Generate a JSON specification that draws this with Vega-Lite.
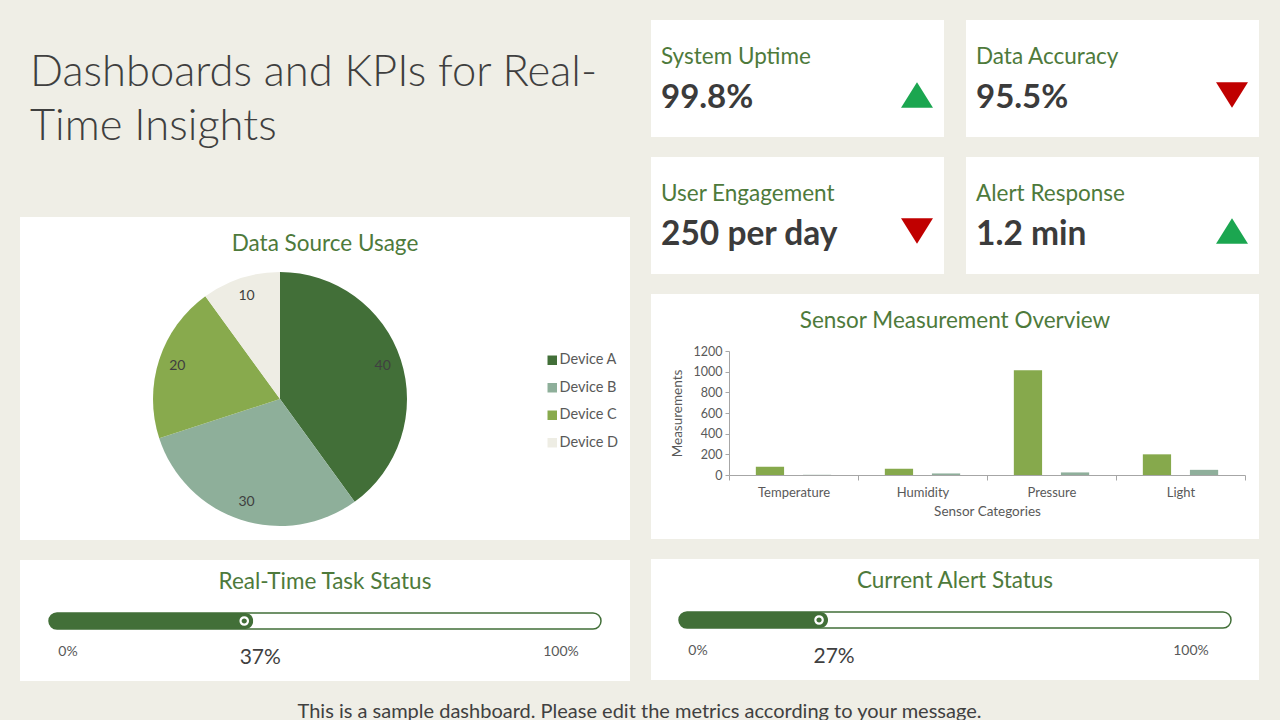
{
  "$schema": "https://vega.github.io/schema/vega-lite/v6.json",
  "background": "#EFEEE6",
  "padding": {"left": 20, "top": 20, "right": 21, "bottom": 0},
  "config": {
    "font": "Lato",
    "view": {"stroke": null, "fill": "white"},
    "title": {"font": "Lato", "fontWeight": "normal", "color": "#4E7A3B", "fontSize": 22.5, "anchor": "middle", "frame": "group"},
    "axis": {"labelFont": "Lato", "titleFont": "Lato", "labelColor": "#595959", "titleColor": "#595959", "domainColor": "#A6A6A6", "tickColor": "#A6A6A6", "grid": false, "titleFontWeight": "normal"}
  },
  "datasets": {
    "kpis": [
      {"metric": "System Uptime", "value": "99.8%", "trend": "up"},
      {"metric": "Data Accuracy", "value": "95.5%", "trend": "down"},
      {"metric": "User Engagement", "value": "250 per day", "trend": "down"},
      {"metric": "Alert Response", "value": "1.2 min", "trend": "up"}
    ]
  },
  "title": {"text": "This is a sample dashboard. Please edit the metrics according to your message.", "orient": "bottom", "anchor": "middle", "frame": "bounds", "fontSize": 20, "color": "#404040", "offset": 21, "baseline": "top"},
  "resolve": {"scale": {"color": "independent", "shape": "independent"}},
  "spacing": 21,
  "hconcat": [
    {
      "spacing": 20,
      "resolve": {"scale": {"color": "independent", "shape": "independent"}},
      "vconcat": [
        {
          "width": 610,
          "height": 177,
          "view": {"fill": "#EFEEE6", "stroke": null},
          "title": {"text": ["Dashboards and KPIs for Real-", "Time Insights"], "anchor": "start", "frame": "group", "dx": 10, "offset": -163, "baseline": "alphabetic", "lineHeight": 54, "fontSize": 43.5, "fontWeight": 300, "color": "#3F3F3F"},
          "data": {"values": [{"t": ""}]},
          "mark": {"type": "text"},
          "encoding": {"text": {"field": "t", "type": "nominal"}}
        },
        {
          "width": 610,
          "height": 323,
          "title": {"text": "Data Source Usage", "offset": -49, "baseline": "middle"},
          "data": {"values": [
            {"device": "Device A", "usage": 40},
            {"device": "Device B", "usage": 30},
            {"device": "Device C", "usage": 20},
            {"device": "Device D", "usage": 10}
          ]},
          "layer": [
            {
              "mark": {"type": "rect", "fill": "white", "stroke": null},
              "encoding": {}
            },
            {
              "mark": {"type": "arc", "x": 260, "y": 182, "radius": 127},
              "encoding": {
                "theta": {"field": "usage", "type": "quantitative", "stack": true},
                "order": {"field": "usage", "type": "quantitative", "sort": "descending"},
                "color": {"field": "device", "type": "nominal",
                  "scale": {"domain": ["Device A", "Device B", "Device C", "Device D"], "range": ["#426F38", "#8EAF9A", "#88AA4D", "#EEEDE4"]},
                  "legend": {"orient": "none", "legendX": 525, "legendY": 136, "title": null, "symbolType": "square", "symbolSize": 90, "symbolStrokeWidth": 0, "labelFontSize": 14.5, "labelColor": "#595959", "labelFont": "Lato", "labelOffset": 0, "rowPadding": 12.5}}
              }
            },
            {
              "mark": {"type": "text", "x": 260, "y": 182, "radius": 108, "fontSize": 14, "color": "#404040"},
              "encoding": {
                "theta": {"field": "usage", "type": "quantitative", "stack": true},
                "order": {"field": "usage", "type": "quantitative", "sort": "descending"},
                "detail": {"field": "device", "type": "nominal"},
                "text": {"field": "usage", "type": "quantitative"}
              }
            }
          ]
        },
        {
          "width": 610,
          "height": 121,
          "title": {"text": "Real-Time Task Status", "offset": -44, "baseline": "middle"},
          "data": {"values": [{"status": "Real-Time Task Status", "pct": 0.37}]},
          "layer": [
            {
              "mark": {"type": "bar", "cornerRadius": 8, "fill": "white", "stroke": "#426F38", "strokeWidth": 1.5},
              "encoding": {
                "y": {"field": "status", "type": "nominal", "scale": {"range": [53, 69], "paddingInner": 0, "paddingOuter": 0}, "axis": null},
                "x": {"datum": 1, "type": "quantitative", "scale": {"domain": [0, 1], "range": [29, 581]}, "axis": null}
              }
            },
            {
              "mark": {"type": "bar", "cornerRadius": 8, "fill": "#426F38"},
              "encoding": {
                "y": {"field": "status", "type": "nominal"},
                "x": {"field": "pct", "type": "quantitative"}
              }
            },
            {
              "mark": {"type": "point", "xOffset": -9, "shape": "circle", "size": 55, "filled": false, "stroke": "white", "strokeWidth": 2.2, "opacity": 1},
              "encoding": {"y": {"field": "status", "type": "nominal"}, "x": {"field": "pct", "type": "quantitative"}}
            },
            {
              "mark": {"type": "text", "y": 92, "dx": 19, "fontSize": 14, "color": "#595959", "baseline": "middle", "text": "0%"},
              "encoding": {"x": {"datum": 0, "type": "quantitative"}}
            },
            {
              "mark": {"type": "text", "y": 92, "dx": -40, "fontSize": 14, "color": "#595959", "baseline": "middle", "text": "100%"},
              "encoding": {"x": {"datum": 1, "type": "quantitative"}}
            },
            {
              "mark": {"type": "text", "y": 98, "dx": 7, "fontSize": 21, "color": "#404040", "baseline": "middle"},
              "encoding": {"x": {"field": "pct", "type": "quantitative"}, "text": {"field": "pct", "type": "quantitative", "format": ".0%"}}
            }
          ]
        }
      ]
    },
    {
      "spacing": 20,
      "resolve": {"scale": {"color": "independent", "shape": "independent"}},
      "vconcat": [
        {
          "spacing": 20,
          "resolve": {"scale": {"color": "independent", "shape": "independent"}},
          "vconcat": [
            {
              "spacing": 22,
              "resolve": {"scale": {"color": "independent", "shape": "independent"}},
              "hconcat": [
                {
                  "width": 293, "height": 117,
                  "data": {"name": "kpis"},
                  "transform": [{"filter": "datum.metric === 'System Uptime'"}],
                  "layer": [
                    {"mark": {"type": "rect", "fill": "white", "stroke": null}, "encoding": {}},
                    {"mark": {"type": "text", "x": 10, "y": 37, "align": "left", "baseline": "middle", "fontSize": 22.5, "color": "#4E7A3B"}, "encoding": {"text": {"field": "metric", "type": "nominal"}}},
                    {"mark": {"type": "text", "x": 10, "y": 78, "align": "left", "baseline": "middle", "fontSize": 33, "fontWeight": "bold", "color": "#3B3B3B"}, "encoding": {"text": {"field": "value", "type": "nominal"}}},
                    {"mark": {"type": "point", "x": 266, "y": 75, "filled": true, "size": 1024, "opacity": 1},
                      "encoding": {
                        "shape": {"field": "trend", "type": "nominal", "scale": {"domain": ["up", "down"], "range": ["M-1,0.8L1,0.8L0,-0.8Z", "M-1,-0.8L1,-0.8L0,0.8Z"]}, "legend": null},
                        "color": {"field": "trend", "type": "nominal", "scale": {"domain": ["up", "down"], "range": ["#1BA650", "#C00000"]}, "legend": null}}}
                  ]
                },
                {
                  "width": 293, "height": 117,
                  "data": {"name": "kpis"},
                  "transform": [{"filter": "datum.metric === 'Data Accuracy'"}],
                  "layer": [
                    {"mark": {"type": "rect", "fill": "white", "stroke": null}, "encoding": {}},
                    {"mark": {"type": "text", "x": 10, "y": 37, "align": "left", "baseline": "middle", "fontSize": 22.5, "color": "#4E7A3B"}, "encoding": {"text": {"field": "metric", "type": "nominal"}}},
                    {"mark": {"type": "text", "x": 10, "y": 78, "align": "left", "baseline": "middle", "fontSize": 33, "fontWeight": "bold", "color": "#3B3B3B"}, "encoding": {"text": {"field": "value", "type": "nominal"}}},
                    {"mark": {"type": "point", "x": 266, "y": 75, "filled": true, "size": 1024, "opacity": 1},
                      "encoding": {
                        "shape": {"field": "trend", "type": "nominal", "scale": {"domain": ["up", "down"], "range": ["M-1,0.8L1,0.8L0,-0.8Z", "M-1,-0.8L1,-0.8L0,0.8Z"]}, "legend": null},
                        "color": {"field": "trend", "type": "nominal", "scale": {"domain": ["up", "down"], "range": ["#1BA650", "#C00000"]}, "legend": null}}}
                  ]
                }
              ]
            },
            {
              "spacing": 22,
              "resolve": {"scale": {"color": "independent", "shape": "independent"}},
              "hconcat": [
                {
                  "width": 293, "height": 117,
                  "data": {"name": "kpis"},
                  "transform": [{"filter": "datum.metric === 'User Engagement'"}],
                  "layer": [
                    {"mark": {"type": "rect", "fill": "white", "stroke": null}, "encoding": {}},
                    {"mark": {"type": "text", "x": 10, "y": 37, "align": "left", "baseline": "middle", "fontSize": 22.5, "color": "#4E7A3B"}, "encoding": {"text": {"field": "metric", "type": "nominal"}}},
                    {"mark": {"type": "text", "x": 10, "y": 78, "align": "left", "baseline": "middle", "fontSize": 33.5, "fontWeight": "bold", "color": "#3B3B3B"}, "encoding": {"text": {"field": "value", "type": "nominal"}}},
                    {"mark": {"type": "point", "x": 266, "y": 74, "filled": true, "size": 1024, "opacity": 1},
                      "encoding": {
                        "shape": {"field": "trend", "type": "nominal", "scale": {"domain": ["up", "down"], "range": ["M-1,0.8L1,0.8L0,-0.8Z", "M-1,-0.8L1,-0.8L0,0.8Z"]}, "legend": null},
                        "color": {"field": "trend", "type": "nominal", "scale": {"domain": ["up", "down"], "range": ["#1BA650", "#C00000"]}, "legend": null}}}
                  ]
                },
                {
                  "width": 293, "height": 117,
                  "data": {"name": "kpis"},
                  "transform": [{"filter": "datum.metric === 'Alert Response'"}],
                  "layer": [
                    {"mark": {"type": "rect", "fill": "white", "stroke": null}, "encoding": {}},
                    {"mark": {"type": "text", "x": 10, "y": 37, "align": "left", "baseline": "middle", "fontSize": 22.5, "color": "#4E7A3B"}, "encoding": {"text": {"field": "metric", "type": "nominal"}}},
                    {"mark": {"type": "text", "x": 10, "y": 78, "align": "left", "baseline": "middle", "fontSize": 33.5, "fontWeight": "bold", "color": "#3B3B3B"}, "encoding": {"text": {"field": "value", "type": "nominal"}}},
                    {"mark": {"type": "point", "x": 266, "y": 74, "filled": true, "size": 1024, "opacity": 1},
                      "encoding": {
                        "shape": {"field": "trend", "type": "nominal", "scale": {"domain": ["up", "down"], "range": ["M-1,0.8L1,0.8L0,-0.8Z", "M-1,-0.8L1,-0.8L0,0.8Z"]}, "legend": null},
                        "color": {"field": "trend", "type": "nominal", "scale": {"domain": ["up", "down"], "range": ["#1BA650", "#C00000"]}, "legend": null}}}
                  ]
                }
              ]
            }
          ]
        },
        {
          "width": 608,
          "height": 245,
          "title": {"text": "Sensor Measurement Overview", "offset": -49, "baseline": "middle"},
          "data": {"values": [
            {"sensor": "Temperature", "series": "Reading", "value": 80},
            {"sensor": "Temperature", "series": "Deviation", "value": 2},
            {"sensor": "Humidity", "series": "Reading", "value": 60},
            {"sensor": "Humidity", "series": "Deviation", "value": 15},
            {"sensor": "Pressure", "series": "Reading", "value": 1013},
            {"sensor": "Pressure", "series": "Deviation", "value": 25},
            {"sensor": "Light", "series": "Reading", "value": 200},
            {"sensor": "Light", "series": "Deviation", "value": 50}
          ]},
          "mark": {"type": "bar"},
          "encoding": {
            "x": {"field": "sensor", "type": "nominal", "sort": ["Temperature", "Humidity", "Pressure", "Light"],
              "scale": {"range": [78, 594], "paddingInner": 0, "paddingOuter": 0},
              "axis": {"offset": -64, "labelAngle": 0, "tickBand": "extent", "tickSize": 5, "labelPadding": 6, "labelFontSize": 13, "title": "Sensor Categories", "titleFontSize": 13.5, "titlePadding": 5}},
            "xOffset": {"field": "series", "type": "nominal", "sort": ["Reading", "Deviation"], "scale": {"paddingInner": 0.4, "paddingOuter": 0.57}},
            "y": {"field": "value", "type": "quantitative",
              "scale": {"domain": [0, 1200], "range": [181, 57]},
              "axis": {"offset": -78, "values": [0, 200, 400, 600, 800, 1000, 1200], "format": "d", "tickSize": 4, "labelPadding": 3, "labelFontSize": 12.5, "title": "Measurements", "titleFontSize": 13.5, "titlePadding": 9}},
            "color": {"field": "series", "type": "nominal", "scale": {"domain": ["Reading", "Deviation"], "range": ["#86A94C", "#8FAF9B"]}, "legend": null}
          }
        },
        {
          "width": 608,
          "height": 121,
          "title": {"text": "Current Alert Status", "offset": -44, "baseline": "middle"},
          "data": {"values": [{"status": "Current Alert Status", "pct": 0.27}]},
          "layer": [
            {
              "mark": {"type": "bar", "cornerRadius": 8, "fill": "white", "stroke": "#426F38", "strokeWidth": 1.5},
              "encoding": {
                "y": {"field": "status", "type": "nominal", "scale": {"range": [53, 69], "paddingInner": 0, "paddingOuter": 0}, "axis": null},
                "x": {"datum": 1, "type": "quantitative", "scale": {"domain": [0, 1], "range": [28, 580]}, "axis": null}
              }
            },
            {
              "mark": {"type": "bar", "cornerRadius": 8, "fill": "#426F38"},
              "encoding": {
                "y": {"field": "status", "type": "nominal"},
                "x": {"field": "pct", "type": "quantitative"}
              }
            },
            {
              "mark": {"type": "point", "xOffset": -9, "shape": "circle", "size": 55, "filled": false, "stroke": "white", "strokeWidth": 2.2, "opacity": 1},
              "encoding": {"y": {"field": "status", "type": "nominal"}, "x": {"field": "pct", "type": "quantitative"}}
            },
            {
              "mark": {"type": "text", "y": 92, "dx": 19, "fontSize": 14, "color": "#595959", "baseline": "middle", "text": "0%"},
              "encoding": {"x": {"datum": 0, "type": "quantitative"}}
            },
            {
              "mark": {"type": "text", "y": 92, "dx": -40, "fontSize": 14, "color": "#595959", "baseline": "middle", "text": "100%"},
              "encoding": {"x": {"datum": 1, "type": "quantitative"}}
            },
            {
              "mark": {"type": "text", "y": 98, "dx": 6, "fontSize": 21, "color": "#404040", "baseline": "middle"},
              "encoding": {"x": {"field": "pct", "type": "quantitative"}, "text": {"field": "pct", "type": "quantitative", "format": ".0%"}}
            }
          ]
        }
      ]
    }
  ]
}
